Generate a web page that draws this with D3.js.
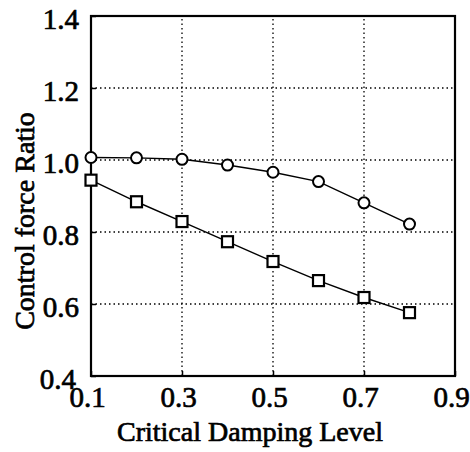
<!DOCTYPE html>
<html>
<head>
<meta charset="utf-8">
<script src="https://cdn.jsdelivr.net/npm/d3@7"></script>
<style>
  body { margin: 0; background: #fff; }
  svg { display: block; }
  text { font-family: "Liberation Serif", "Times New Roman", serif; fill: #000; stroke: #000; stroke-width: 0.7px; }
</style>
</head>
<body>
<svg id="chart" width="470" height="452"></svg>
<script>
'use strict';

// damping levels
var damping = [0.1, 0.2, 0.3, 0.4, 0.5, 0.6, 0.7, 0.8];
// circle series
var circleRatio = [1.007, 1.006, 1.002, 0.986, 0.966, 0.940, 0.881, 0.822];
// square series
var squareRatio = [0.944, 0.884, 0.829, 0.773, 0.718, 0.665, 0.618, 0.576];

var xTicks = [0.1, 0.3, 0.5, 0.7, 0.9];
var yTicks = [0.4, 0.6, 0.8, 1.0, 1.2, 1.4];

var svg = d3.select("#chart");
var margin = { left: 91, right: 15, top: 16, bottom: 76 };
var W = 470, H = 452;
var serif = '"Liberation Serif", "Times New Roman", serif';

var x = d3.scaleLinear().domain([0.1, 0.9]).range([margin.left, W - margin.right]);
var y = d3.scaleLinear().domain([0.4, 1.4]).range([H - margin.bottom, margin.top]);

//
// dotted grid
//
var grid = svg.append("g").attr("class", "grid");
grid.selectAll(".hgrid")
  .data(yTicks.filter(d => d > 0.4 && d < 1.4))
  .enter().append("line")
  .attr("x1", x(0.1)).attr("x2", x(0.9))
  .attr("y1", d => y(d)).attr("y2", d => y(d))
  .attr("stroke", "#000").attr("stroke-width", 1.3)
  .attr("stroke-dasharray", "1.5,3");
grid.selectAll(".vgrid")
  .data(xTicks.filter(d => d > 0.1 && d < 0.9))
  .enter().append("line")
  .attr("y1", y(0.4)).attr("y2", y(1.4))
  .attr("x1", d => x(d)).attr("x2", d => x(d))
  .attr("stroke", "#000").attr("stroke-width", 1.3)
  .attr("stroke-dasharray", "1.5,3");

//
// axes (ticks inward, box)
//
var xAxis = d3.axisBottom(x).tickValues(xTicks).tickFormat(d3.format(".1f"))
  .tickSizeInner(-5).tickSizeOuter(0).tickPadding(14);
var yAxis = d3.axisLeft(y).tickValues(yTicks).tickFormat(d3.format(".1f"))
  .tickSizeInner(-5).tickSizeOuter(0).tickPadding(12);

var gx = svg.append("g").attr("transform", "translate(0," + y(0.4) + ")").call(xAxis);
var gy = svg.append("g").attr("transform", "translate(" + x(0.1) + ",0)").call(yAxis);

[gx, gy].forEach(g => {
  g.attr("font-family", serif).attr("font-size", 29);
  g.select(".domain").remove();
  g.selectAll("line").attr("stroke", "#000").attr("stroke-width", 1.5);
  g.selectAll("text").style("font-family", serif).style("font-size", "29px");
});
gx.selectAll("text").attr("dy", "0.6em").attr("dx", -4);
gy.selectAll("text").attr("dy", "0.43em");
// bottom-left label sits a bit further left of the corner
gy.selectAll(".tick").filter(d => d === 0.4).select("text").attr("x", -15);

svg.append("rect")
  .attr("x", x(0.1)).attr("y", y(1.4))
  .attr("width", x(0.9) - x(0.1)).attr("height", y(0.4) - y(1.4))
  .attr("fill", "none").attr("stroke", "#000").attr("stroke-width", 2.2);

//
// series
//
var line = d3.line().x(d => x(d[0])).y(d => y(d[1]));
var circles = d3.zip(damping, circleRatio);
var squares = d3.zip(damping, squareRatio);

svg.append("path").datum(circles).attr("d", line)
  .attr("fill", "none").attr("stroke", "#000").attr("stroke-width", 1.4);
svg.append("path").datum(squares).attr("d", line)
  .attr("fill", "none").attr("stroke", "#000").attr("stroke-width", 1.4);

svg.selectAll(".circ").data(circles).enter().append("circle")
  .attr("cx", d => x(d[0])).attr("cy", d => y(d[1])).attr("r", 5.5)
  .attr("fill", "#fff").attr("stroke", "#000").attr("stroke-width", 2);

var s = 11;
svg.selectAll(".sq").data(squares).enter().append("rect")
  .attr("x", d => x(d[0]) - s / 2).attr("y", d => y(d[1]) - s / 2)
  .attr("width", s).attr("height", s)
  .attr("fill", "#fff").attr("stroke", "#000").attr("stroke-width", 2.2);

//
// titles
//
svg.append("text")
  .attr("x", 250).attr("y", 441)
  .attr("text-anchor", "middle")
  .style("font-size", "28px")
  .text("Critical Damping Level");

svg.append("text")
  .attr("transform", "translate(34,221) rotate(-90)")
  .attr("text-anchor", "middle")
  .style("font-size", "28px")
  .text("Control force Ratio");
</script>
</body>
</html>
